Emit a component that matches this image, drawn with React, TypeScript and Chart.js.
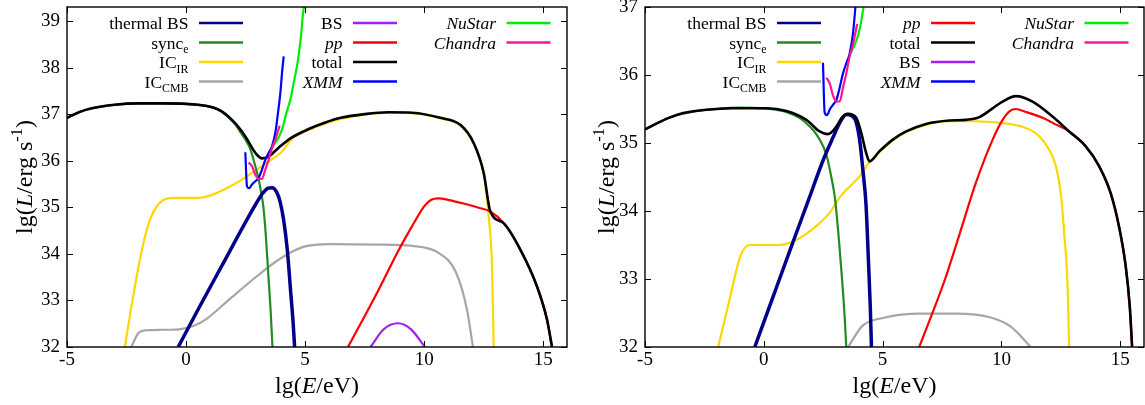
import React, { useEffect, useRef } from "react";
import { Chart, registerables } from "chart.js";

Chart.register(...registerables);

type Pt = [number, number];

// ---------- axes ----------
const X_TICKS = [-5, 0, 5, 10, 15];
const X_MIN = -5;
const X_MAX = 16;
const Y_MIN = 32;
const Y_MAX_LEFT = 39.3;
const Y_MAX_RIGHT = 37;
const Y_TICKS_LEFT = [32, 33, 34, 35, 36, 37, 38, 39];
const Y_TICKS_RIGHT = [32, 33, 34, 35, 36, 37];

// ---------- detector sensitivities (both panels) ----------
const XMM: Pt[] = [
  [2.49, 36.18], [2.56, 35.45], [2.66, 35.41], [2.77, 35.49], [2.91, 35.56], [3.05, 35.63],
  [3.19, 35.81], [3.33, 36.02], [3.47, 36.17], [3.61, 36.31], [3.75, 36.6], [3.86, 37.02],
  [3.96, 37.45], [4.03, 37.88], [4.1, 38.24],
];
const CHANDRA: Pt[] = [
  [2.63, 35.96], [2.77, 35.88], [2.91, 35.7], [3.05, 35.61], [3.19, 35.61], [3.33, 35.81],
  [3.47, 36.02], [3.61, 36.27], [3.75, 36.45], [3.93, 36.75],
];
const NUSTAR: Pt[] = [
  [3.6, 36.28], [3.89, 36.5], [4.05, 36.7], [4.2, 37.0], [4.38, 37.31], [4.52, 37.67],
  [4.66, 38.03], [4.76, 38.38], [4.84, 38.74], [4.9, 39.1], [4.95, 39.3],
];

// ---------- left panel ----------
const L_THERMAL_BS: Pt[] = [
  [-0.33, 32], [0.5, 32.8], [1.5, 33.74], [2.5, 34.68], [3.0, 35.13], [3.25, 35.32], [3.45, 35.41],
  [3.62, 35.42], [3.8, 35.33], [3.95, 35.12], [4.1, 34.72], [4.25, 34.1], [4.4, 33.15], [4.5, 32.5], [4.56, 32],
];
const L_SYNC: Pt[] = [
  [-5, 36.92], [-4.5, 37.04], [-4, 37.12], [-3, 37.2], [-2, 37.23], [-1, 37.23], [0, 37.22], [0.5, 37.2],
  [1.0, 37.16], [1.5, 37.05], [2.07, 36.78], [2.3, 36.6], [2.5, 36.45], [2.7, 36.25], [2.9, 35.9],
  [3.05, 35.6], [3.16, 35.3], [3.25, 35.0], [3.35, 34.4], [3.45, 33.6], [3.55, 32.8], [3.63, 32],
];
const L_IC_IR: Pt[] = [
  [-2.57, 32], [-2.25, 33.0], [-1.85, 34.1], [-1.5, 34.75], [-1.0, 35.14], [-0.5, 35.2], [0.5, 35.2],
  [1.0, 35.25], [2.0, 35.49], [2.8, 35.75], [3.4, 35.96], [4.0, 36.18], [4.45, 36.47], [5.15, 36.66],
  [5.85, 36.8], [6.5, 36.9], [7.5, 36.99], [8.5, 37.03], [9.5, 37.02], [10.68, 36.91], [11.52, 36.76],
  [12.08, 36.37], [12.5, 35.72], [12.71, 34.8], [12.85, 33.73], [12.92, 32],
];
const L_IC_CMB: Pt[] = [
  [-2.3, 32], [-2.0, 32.3], [-1.7, 32.36], [-1.0, 32.37], [-0.3, 32.38], [0.3, 32.45], [0.85, 32.6],
  [1.77, 33.0], [3.0, 33.53], [3.93, 33.89], [4.86, 34.14], [6.1, 34.21], [8.0, 34.2], [9.5, 34.17],
  [10.57, 34.03], [11.34, 33.6], [11.8, 32.8], [12.05, 32],
];
const L_BS: Pt[] = [[7.75, 32], [8.3, 32.38], [8.9, 32.51], [9.45, 32.38], [10.03, 32]];
const L_PP: Pt[] = [
  [6.8, 32], [7.5, 32.66], [8.16, 33.3], [8.9, 34.05], [9.5, 34.6], [10.0, 35.02], [10.3, 35.16],
  [10.61, 35.19], [11.0, 35.16], [11.66, 35.08], [12.36, 34.98], [12.78, 34.91], [13.34, 34.66],
  [14.04, 34.09], [14.74, 33.3], [15.16, 32.59], [15.37, 32],
];
const L_TOTAL: Pt[] = [
  [-5, 36.92], [-4.5, 37.04], [-4, 37.12], [-3, 37.2], [-2, 37.23], [-1, 37.23], [0, 37.22], [0.5, 37.2],
  [1.0, 37.16], [1.5, 37.06], [2.07, 36.8], [2.49, 36.52], [2.91, 36.17], [3.19, 36.05], [3.47, 36.09],
  [3.89, 36.28], [4.45, 36.5], [5.15, 36.68], [5.85, 36.82], [6.5, 36.92], [7.5, 37.0], [8.5, 37.04],
  [9.5, 37.03], [10.68, 36.92], [11.52, 36.77], [12.08, 36.38], [12.5, 35.74], [12.78, 34.91],
  [13.34, 34.66], [14.04, 34.09], [14.74, 33.3], [15.16, 32.59], [15.37, 32],
];

// ---------- right panel ----------
const R_THERMAL_BS: Pt[] = [
  [-0.38, 32], [0.38, 32.73], [1.13, 33.45], [1.89, 34.17], [2.5, 34.75], [2.91, 35.08], [3.2, 35.3],
  [3.47, 35.42], [3.7, 35.4], [3.89, 35.3], [4.05, 35.0], [4.17, 34.6], [4.3, 34.1], [4.4, 33.3],
  [4.48, 32.6], [4.53, 32],
];
const R_SYNC: Pt[] = [
  [-5, 35.2], [-4, 35.37], [-3, 35.46], [-2, 35.5], [-1, 35.52], [0, 35.51], [0.5, 35.49], [1.0, 35.45],
  [1.5, 35.37], [1.79, 35.29], [2.1, 35.18], [2.35, 35.05], [2.63, 34.83], [2.84, 34.5], [3.0, 34.17],
  [3.25, 33.19], [3.4, 32.46], [3.47, 32],
];
const R_IC_IR: Pt[] = [
  [-1.92, 32], [-1.44, 32.7], [-0.98, 33.34], [-0.6, 33.5], [-0.23, 33.5], [0.53, 33.5], [1.28, 33.56],
  [2.04, 33.73], [2.79, 33.98], [3.19, 34.2], [4.03, 34.51], [4.45, 34.72], [4.87, 34.87], [5.43, 35.04],
  [5.99, 35.16], [6.83, 35.27], [7.81, 35.32], [8.93, 35.32], [10.33, 35.28], [11.03, 35.22],
  [11.59, 35.1], [12.01, 34.9], [12.29, 34.66], [12.5, 34.26], [12.64, 33.68], [12.78, 32.94], [12.85, 32],
];
const R_IC_CMB: Pt[] = [
  [3.55, 32], [4.15, 32.31], [5.06, 32.43], [6.57, 32.49], [8.08, 32.49], [9.59, 32.43], [10.35, 32.31],
  [10.95, 32.11], [11.22, 32],
];
const R_BS: Pt[] = [];
const R_PP: Pt[] = [
  [6.54, 32], [7.63, 33.0], [8.23, 33.65], [8.93, 34.42], [9.63, 35.05], [10.05, 35.34], [10.35, 35.47],
  [10.61, 35.5], [11.0, 35.46], [11.73, 35.37], [12.3, 35.27], [12.85, 35.17], [13.55, 34.95],
  [14.11, 34.66], [14.6, 34.26], [14.95, 33.77], [15.23, 33.19], [15.4, 32.6], [15.5, 32],
];
const R_TOTAL: Pt[] = [
  [-5, 35.2], [-4, 35.37], [-3.39, 35.44], [-2, 35.5], [-1.29, 35.51], [0.11, 35.51], [0.95, 35.47],
  [1.79, 35.34], [2.35, 35.17], [2.7, 35.13], [3.05, 35.24], [3.3, 35.38], [3.54, 35.43], [3.89, 35.37],
  [4.1, 35.15], [4.31, 34.85], [4.45, 34.73], [4.87, 34.88], [5.43, 35.05], [5.99, 35.17], [6.83, 35.28],
  [7.81, 35.33], [8.5, 35.34], [9.07, 35.38], [9.63, 35.51], [10.05, 35.61], [10.61, 35.69], [11.31, 35.61],
  [12.15, 35.39], [12.85, 35.17], [13.55, 34.95], [14.11, 34.66], [14.6, 34.26], [14.95, 33.77],
  [15.23, 33.19], [15.4, 32.6], [15.5, 32],
];

// ---------- legend layout (keys per column) ----------
const LEGEND_LEFT: string[][] = [
  ["thermalBS", "sync", "icir", "iccmb"],
  ["bs", "pp", "total", "xmm"],
  ["nustar", "chandra"],
];
const LEGEND_RIGHT: string[][] = [
  ["thermalBS", "sync", "icir", "iccmb"],
  ["pp", "total", "bs", "xmm"],
  ["nustar", "chandra"],
];

type Part = { t: string; it?: boolean; sub?: boolean; sup?: boolean };

const LABELS: Record<string, Part[]> = {
  thermalBS: [{ t: "thermal BS" }],
  sync: [{ t: "sync" }, { t: "e", sub: true }],
  icir: [{ t: "IC" }, { t: "IR", sub: true }],
  iccmb: [{ t: "IC" }, { t: "CMB", sub: true }],
  bs: [{ t: "BS" }],
  pp: [{ t: "pp", it: true }],
  total: [{ t: "total" }],
  xmm: [{ t: "XMM", it: true }],
  nustar: [{ t: "NuStar", it: true }],
  chandra: [{ t: "Chandra", it: true }],
};

const X_TITLE: Part[] = [{ t: "lg(" }, { t: "E", it: true }, { t: "/eV)" }];
const Y_TITLE: Part[] = [{ t: "lg(" }, { t: "L", it: true }, { t: "/erg s" }, { t: "-1", sup: true }, { t: ")" }];

const STYLE: Record<string, { color: string; width: number; order: number }> = {
  iccmb: { color: "#a6a6a6", width: 2.2, order: 10 },
  icir: { color: "#ffd700", width: 2.2, order: 9 },
  sync: { color: "#228b22", width: 2.2, order: 8 },
  thermalBS: { color: "#00008b", width: 3.5, order: 7 },
  bs: { color: "#a020f0", width: 2.2, order: 6 },
  pp: { color: "#ff0000", width: 2.2, order: 5 },
  total: { color: "#000000", width: 2.6, order: 4 },
  nustar: { color: "#00ee00", width: 2.2, order: 3 },
  xmm: { color: "#0000ff", width: 2.2, order: 2 },
  chandra: { color: "#ff1493", width: 2.2, order: 1 },
};

const FAMILY = '"Liberation Serif", "Times New Roman", serif';
const font = (size: number, italic = false) => `${italic ? "italic " : ""}${size}px ${FAMILY}`;

function drawRich(ctx: CanvasRenderingContext2D, parts: Part[], x: number, y: number, align: string, size: number) {
  const small = size * 0.68;
  const widths = parts.map((p) => {
    ctx.font = font(p.sub || p.sup ? small : size, !!p.it);
    return ctx.measureText(p.t).width;
  });
  const total = widths.reduce((a, b) => a + b, 0);
  let cx = align === "right" ? x - total : align === "center" ? x - total / 2 : x;
  ctx.textAlign = "left";
  ctx.textBaseline = "alphabetic";
  parts.forEach((p, i) => {
    ctx.font = font(p.sub || p.sup ? small : size, !!p.it);
    const dy = p.sub ? size * 0.28 : p.sup ? -size * 0.42 : 0;
    ctx.fillText(p.t, cx, y + dy);
    cx += widths[i];
  });
}

type PanelDef = {
  width: number;
  left: number;
  yMax: number;
  yTicks: number[];
  yAxisWidth: number;
  padRight: number;
  yTitleX: number;
  legend: string[][];
  series: { key: string; pts: Pt[] }[];
};

const LEGEND_TEXT_RIGHT = [121.5, 275.5, 429];
const LEGEND_ROW0 = 16;
const LEGEND_STEP = 19.5;

function framePlugin(panel: PanelDef) {
  return {
    id: "frameAndLegend",
    afterDraw(chart: any) {
      const { ctx, chartArea: a, scales } = chart;
      const xs = scales.x;
      const ys = scales.y;
      ctx.save();
      ctx.strokeStyle = "#000";
      ctx.lineWidth = 1.4;
      ctx.strokeRect(a.left, a.top, a.right - a.left, a.bottom - a.top);
      ctx.lineWidth = 1;
      ctx.beginPath();
      X_TICKS.forEach((v) => {
        const px = Math.round(xs.getPixelForValue(v)) + 0.5;
        ctx.moveTo(px, a.bottom);
        ctx.lineTo(px, a.bottom - 6);
        ctx.moveTo(px, a.top);
        ctx.lineTo(px, a.top + 6);
      });
      panel.yTicks.forEach((v) => {
        const py = Math.round(ys.getPixelForValue(v)) + 0.5;
        ctx.moveTo(a.left, py);
        ctx.lineTo(a.left + 6, py);
        ctx.moveTo(a.right, py);
        ctx.lineTo(a.right - 6, py);
      });
      ctx.stroke();

      // legend
      panel.legend.forEach((col, ci) => {
        col.forEach((key, ri) => {
          const tr = a.left + LEGEND_TEXT_RIGHT[ci];
          const yy = a.top + LEGEND_ROW0 + ri * LEGEND_STEP;
          ctx.fillStyle = "#000";
          drawRich(ctx, LABELS[key], tr, yy + 6, "right", 17.5);
          ctx.strokeStyle = STYLE[key].color;
          ctx.lineWidth = 2.5;
          ctx.beginPath();
          ctx.moveTo(tr + 10.5, yy);
          ctx.lineTo(tr + 54.5, yy);
          ctx.stroke();
        });
      });

      // axis titles
      ctx.fillStyle = "#000";
      drawRich(ctx, X_TITLE, (a.left + a.right) / 2, 393, "center", 24);
      ctx.save();
      ctx.translate(panel.yTitleX, (a.top + a.bottom) / 2);
      ctx.rotate(-Math.PI / 2);
      drawRich(ctx, Y_TITLE, 0, 0, "center", 24);
      ctx.restore();
      ctx.restore();
    },
  };
}

function buildConfig(panel: PanelDef): any {
  return {
    type: "line",
    data: {
      datasets: panel.series.map((s) => ({
        label: s.key,
        data: s.pts.map(([x, y]) => ({ x, y })),
        borderColor: STYLE[s.key].color,
        backgroundColor: STYLE[s.key].color,
        borderWidth: STYLE[s.key].width,
        pointRadius: 0,
        fill: false,
        cubicInterpolationMode: "monotone",
        order: STYLE[s.key].order,
      })),
    },
    options: {
      responsive: false,
      animation: false,
      events: [],
      layout: { padding: { top: 7, right: panel.padRight, left: 0, bottom: 0 } },
      plugins: { legend: { display: false }, tooltip: { enabled: false } },
      scales: {
        x: {
          type: "linear",
          min: X_MIN,
          max: X_MAX,
          grid: { display: false, drawTicks: false },
          border: { display: false },
          ticks: { font: { family: FAMILY, size: 19 }, color: "#000", padding: 2, maxRotation: 0 },
          afterBuildTicks: (s: any) => {
            s.ticks = X_TICKS.map((v) => ({ value: v }));
          },
          afterFit: (s: any) => {
            s.height = 58;
            s.paddingLeft = 0;
            s.paddingRight = 0;
          },
        },
        y: {
          type: "linear",
          min: Y_MIN,
          max: panel.yMax,
          grid: { display: false, drawTicks: false },
          border: { display: false },
          ticks: { font: { family: FAMILY, size: 19 }, color: "#000", padding: 7 },
          afterBuildTicks: (s: any) => {
            s.ticks = panel.yTicks.map((v) => ({ value: v }));
          },
          afterFit: (s: any) => {
            s.width = panel.yAxisWidth;
            s.paddingTop = 0;
            s.paddingBottom = 0;
          },
        },
      },
    },
    plugins: [framePlugin(panel)],
  };
}

const LEFT_PANEL: PanelDef = {
  width: 572,
  left: 0,
  yMax: Y_MAX_LEFT,
  yTicks: Y_TICKS_LEFT,
  yAxisWidth: 67,
  padRight: 5,
  yTitleX: 32,
  legend: LEGEND_LEFT,
  series: [
    { key: "thermalBS", pts: L_THERMAL_BS },
    { key: "sync", pts: L_SYNC },
    { key: "icir", pts: L_IC_IR },
    { key: "iccmb", pts: L_IC_CMB },
    { key: "bs", pts: L_BS },
    { key: "pp", pts: L_PP },
    { key: "total", pts: L_TOTAL },
    { key: "xmm", pts: XMM },
    { key: "nustar", pts: NUSTAR },
    { key: "chandra", pts: CHANDRA },
  ],
};

const RIGHT_PANEL: PanelDef = {
  width: 572,
  left: 573,
  yMax: Y_MAX_RIGHT,
  yTicks: Y_TICKS_RIGHT,
  yAxisWidth: 72,
  padRight: 1,
  yTitleX: 41,
  legend: LEGEND_RIGHT,
  series: [
    { key: "thermalBS", pts: R_THERMAL_BS },
    { key: "sync", pts: R_SYNC },
    { key: "icir", pts: R_IC_IR },
    { key: "iccmb", pts: R_IC_CMB },
    { key: "pp", pts: R_PP },
    { key: "total", pts: R_TOTAL },
    { key: "bs", pts: R_BS },
    { key: "xmm", pts: XMM },
    { key: "nustar", pts: NUSTAR },
    { key: "chandra", pts: CHANDRA },
  ],
};

function Panel({ panel }: { panel: PanelDef }) {
  const ref = useRef<HTMLCanvasElement>(null);
  useEffect(() => {
    const chart = new Chart(ref.current as HTMLCanvasElement, buildConfig(panel));
    return () => chart.destroy();
  }, []);
  return (
    <canvas
      ref={ref}
      width={panel.width}
      height={405}
      style={{ position: "absolute", left: panel.left, top: 0, width: panel.width, height: 405 }}
    />
  );
}

export default function App() {
  return (
    <div style={{ position: "fixed", left: 0, top: 0, width: 1145, height: 405, background: "#fff", overflow: "hidden" }}>
      <Panel panel={LEFT_PANEL} />
      <Panel panel={RIGHT_PANEL} />
    </div>
  );
}
